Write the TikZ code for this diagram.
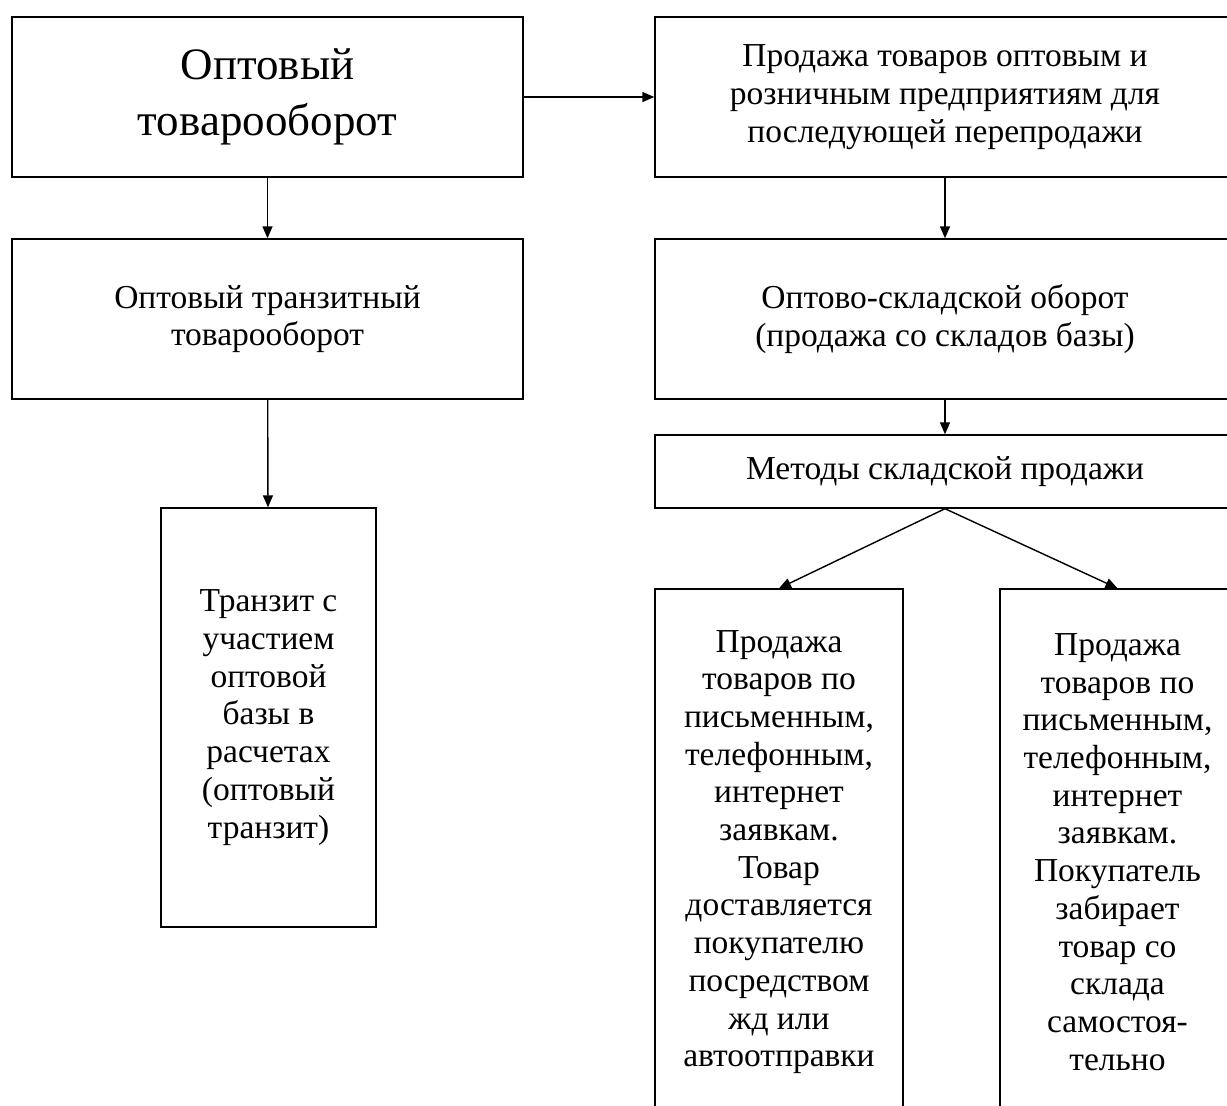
\documentclass[tikz,border=0pt]{standalone}
\usepackage{fontspec}
\setmainfont{Liberation Serif}
\usetikzlibrary{arrows.meta}
\tikzset{
  blok/.style={draw, line width=1.4pt, align=center, inner sep=0pt,
    font=\fontsize{33.5}{37.7}\selectfont},
  strelka/.style={line width=1.4pt, -{Triangle[length=12pt,width=10pt]}}
}
\begin{document}
\begin{tikzpicture}[x=1pt, y=-1pt]
    \useasboundingbox (0,0) rectangle (1227,1106);
    \clip (0,0) rectangle (1227,1106);

    % Left branch
    \node[blok, minimum width=511pt, minimum height=160pt,
      font=\fontsize{45}{56}\selectfont] (opt) at (267.5,97) {Оптовый\\товарооборот};
    \node[blok, minimum width=511pt, minimum height=160pt] (tranzit) at (267.5,319)
      {Оптовый транзитный\\товарооборот};
    \node[blok, minimum width=215pt, minimum height=419pt] (baza) at (268.5,717.5)
      {Транзит с\\участием\\оптовой\\базы в\\расчетах\\(оптовый\\транзит)};

    % Right branch
    \node[blok, minimum width=580pt, minimum height=160pt] (prodazha) at (945,97)
      {Продажа товаров оптовым и\\розничным предприятиям для\\последующей перепродажи};
    \node[blok, minimum width=580pt, minimum height=160pt] (sklad) at (945,319)
      {Оптово-складской оборот\\(продажа со складов базы)};
    \node[blok, minimum width=580pt, minimum height=73pt] (metody) at (945,471.5)
      {Методы складской продажи};

    % Methods
    \node[blok, minimum width=248pt, minimum height=526pt] (dostavka) at (779,852)
      {Продажа\\товаров по\\письменным,\\телефонным,\\интернет\\заявкам.\\Товар\\доставляется\\покупателю\\посредством\\жд или\\автоотправки};
    \node[blok, minimum width=235pt, minimum height=526pt] (samovyvoz) at (1117.5,852)
      {Продажа\\товаров по\\письменным,\\телефонным,\\интернет\\заявкам.\\Покупатель\\забирает\\товар со\\склада\\самостоя-\\тельно};

    % Arrows
    \draw[strelka] (opt) -- (prodazha);
    \draw[strelka] (opt) -- (tranzit);
    \draw[strelka] (tranzit) -- (baza);
    \draw[strelka] (prodazha) -- (sklad);
    \draw[strelka] (sklad) -- (metody);
    \draw[strelka] (metody.south) -- (dostavka.north);
    \draw[strelka] (metody.south) -- (samovyvoz.north);
\end{tikzpicture}
\end{document}
